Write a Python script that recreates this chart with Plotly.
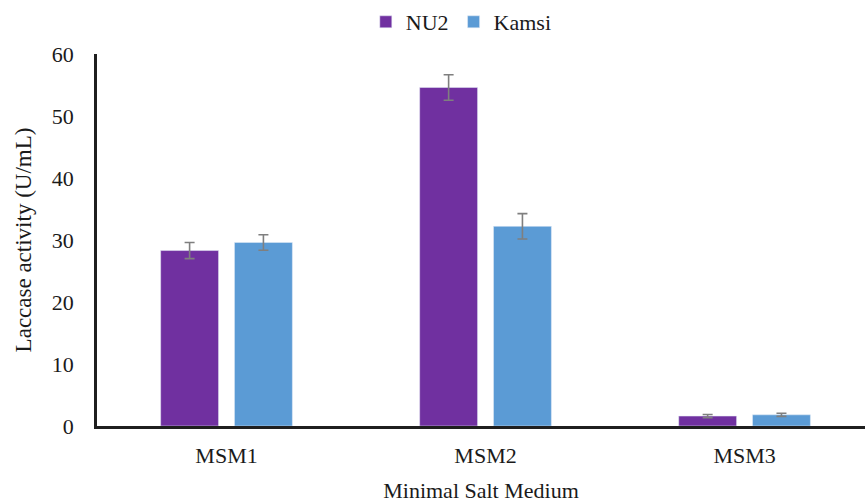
import plotly.graph_objects as go

# Laccase activity by growth medium, two strains
media = ["MSM1", "MSM2", "MSM3"]
nu2_activity = [28.3, 54.6, 1.6]
nu2_err = [1.3, 2.05, 0.25]
kamsi_activity = [29.6, 32.2, 1.8]
kamsi_err = [1.25, 2.05, 0.25]

SERIF = "Liberation Serif"
ERR_STYLE = dict(type="data", color="#7f7f7f", thickness=1.6, width=5)

fig = go.Figure()
fig.add_trace(go.Bar(
    name="NU2", x=media, y=nu2_activity,
    marker=dict(color="#7030A0"),
    error_y=dict(array=nu2_err, **ERR_STYLE),
))
fig.add_trace(go.Bar(
    name="Kamsi", x=media, y=kamsi_activity,
    marker=dict(color="#5B9BD5"),
    error_y=dict(array=kamsi_err, **ERR_STYLE),
))

fig.update_layout(
    width=865, height=503,
    margin=dict(l=97, r=0, t=54, b=77),
    paper_bgcolor="white", plot_bgcolor="white",
    barmode="group", bargap=0.43, bargroupgap=0.216,
    font=dict(family=SERIF, color="#1a1a1a", size=21),
    showlegend=True,
    legend=dict(
        orientation="h", x=0.35, y=1.086, xanchor="left", yanchor="middle",
        font=dict(family=SERIF, size=22, color="#1a1a1a"),
        itemwidth=30, tracegroupgap=0, itemclick=False,
    ),
    xaxis=dict(
        range=[-0.5, 2.465], showgrid=False, zeroline=False,
        showline=True, linecolor="#1f1f1f", linewidth=2.5,
        ticks="", tickfont=dict(family=SERIF, size=22), ticklabelstandoff=8,
        title=dict(text="Minimal Salt Medium", font=dict(family=SERIF, size=22), standoff=20),
    ),
    yaxis=dict(
        range=[0, 60], dtick=10, showgrid=False, zeroline=False,
        showline=True, linecolor="#1f1f1f", linewidth=2.5,
        ticks="", tickfont=dict(family=SERIF, size=22), ticklabelstandoff=16,
        title=dict(text="Laccase activity (U/mL)", font=dict(family=SERIF, size=23), standoff=14),
    ),
)

fig.write_html("out.html")
